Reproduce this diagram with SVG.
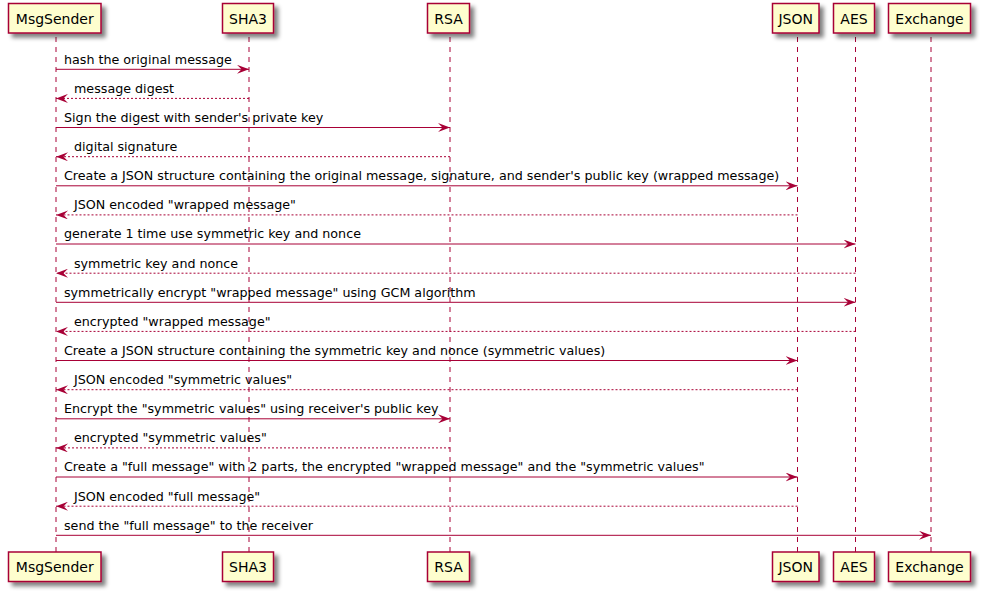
<svg xmlns="http://www.w3.org/2000/svg" width="981" height="593" viewBox="0 0 981 593">
<defs>
<filter id="sh" x="-20%" y="-20%" width="150%" height="160%">
<feGaussianBlur in="SourceAlpha" stdDeviation="2" result="b"/>
<feOffset in="b" dx="4" dy="4" result="o"/>
<feComponentTransfer in="o" result="o2"><feFuncA type="linear" slope="0.5"/></feComponentTransfer>
<feMerge><feMergeNode in="o2"/><feMergeNode in="SourceGraphic"/></feMerge>
</filter>
<marker id="ah" viewBox="0 0 12 9" refX="12" refY="4.5" markerWidth="12" markerHeight="9" markerUnits="userSpaceOnUse" orient="auto">
<polygon points="0,0 12,4.5 0,9 4.5,4.5" fill="#A80036"/>
</marker>
</defs>
<style>
.box{fill:#FEFECE;stroke:#A80036;stroke-width:1.5;filter:url(#sh)}
.pt{font-family:"DejaVu Sans",sans-serif;font-size:14px;fill:#000;text-anchor:middle}
.life{stroke:#A80036;stroke-width:1;stroke-dasharray:5,5;fill:none}
.msg{stroke:#A80036;stroke-width:1;fill:none;marker-end:url(#ah)}
.ret{stroke:#A80036;stroke-width:1;stroke-dasharray:2,2;fill:none;marker-end:url(#ah)}
.mt{font-family:"DejaVu Sans",sans-serif;font-size:12.7px;fill:#000}
</style>
<rect width="981" height="593" fill="#FFFFFF"/>
<g id="lifelines">
<line class="life" x1="56" y1="37" x2="56" y2="552"/>
<line class="life" x1="249" y1="37" x2="249" y2="552"/>
<line class="life" x1="450" y1="37" x2="450" y2="552"/>
<line class="life" x1="797.5" y1="37" x2="797.5" y2="552"/>
<line class="life" x1="855.5" y1="37" x2="855.5" y2="552"/>
<line class="life" x1="931" y1="37" x2="931" y2="552"/>
</g>
<g id="MsgSender">
<rect class="box" x="8.5" y="3.5" width="92.5" height="29.5"/>
<text class="pt" x="54.75" y="23.5">MsgSender</text>
<rect class="box" x="8.5" y="552" width="92.5" height="29.5"/>
<text class="pt" x="54.75" y="572">MsgSender</text>
</g>
<g id="SHA3">
<rect class="box" x="222.5" y="3.5" width="51" height="29.5"/>
<text class="pt" x="248" y="23.5">SHA3</text>
<rect class="box" x="222.5" y="552" width="51" height="29.5"/>
<text class="pt" x="248" y="572">SHA3</text>
</g>
<g id="RSA">
<rect class="box" x="427.5" y="3.5" width="42" height="29.5"/>
<text class="pt" x="448.5" y="23.5">RSA</text>
<rect class="box" x="427.5" y="552" width="42" height="29.5"/>
<text class="pt" x="448.5" y="572">RSA</text>
</g>
<g id="JSON">
<rect class="box" x="772.5" y="3.5" width="46.5" height="29.5"/>
<text class="pt" x="795.75" y="23.5">JSON</text>
<rect class="box" x="772.5" y="552" width="46.5" height="29.5"/>
<text class="pt" x="795.75" y="572">JSON</text>
</g>
<g id="AES">
<rect class="box" x="833.5" y="3.5" width="41" height="29.5"/>
<text class="pt" x="854" y="23.5">AES</text>
<rect class="box" x="833.5" y="552" width="41" height="29.5"/>
<text class="pt" x="854" y="572">AES</text>
</g>
<g id="Exchange">
<rect class="box" x="888.5" y="3.5" width="82" height="29.5"/>
<text class="pt" x="929.5" y="23.5">Exchange</text>
<rect class="box" x="888.5" y="552" width="82" height="29.5"/>
<text class="pt" x="929.5" y="572">Exchange</text>
</g>
<g id="connectors">
<line class="msg" x1="56" y1="69.3" x2="249" y2="69.3"/>
<text class="mt" x="64" y="63.6">hash the original message</text>
<line class="ret" x1="249" y1="98.4" x2="56" y2="98.4"/>
<text class="mt" x="74" y="92.7">message digest</text>
<line class="msg" x1="56" y1="127.5" x2="450" y2="127.5"/>
<text class="mt" x="64" y="121.8">Sign the digest with sender's private key</text>
<line class="ret" x1="450" y1="156.7" x2="56" y2="156.7"/>
<text class="mt" x="74" y="151">digital signature</text>
<line class="msg" x1="56" y1="185.8" x2="797.5" y2="185.8"/>
<text class="mt" x="64" y="180.1">Create a JSON structure containing the original message, signature, and sender's public key (wrapped message)</text>
<line class="ret" x1="797.5" y1="214.9" x2="56" y2="214.9"/>
<text class="mt" x="74" y="209.2">JSON encoded "wrapped message"</text>
<line class="msg" x1="56" y1="244" x2="855.5" y2="244"/>
<text class="mt" x="64" y="238.3">generate 1 time use symmetric key and nonce</text>
<line class="ret" x1="855.5" y1="273.2" x2="56" y2="273.2"/>
<text class="mt" x="74" y="267.5">symmetric key and nonce</text>
<line class="msg" x1="56" y1="302.3" x2="855.5" y2="302.3"/>
<text class="mt" x="64" y="296.6">symmetrically encrypt "wrapped message" using GCM algorithm</text>
<line class="ret" x1="855.5" y1="331.4" x2="56" y2="331.4"/>
<text class="mt" x="74" y="325.7">encrypted "wrapped message"</text>
<line class="msg" x1="56" y1="360.5" x2="797.5" y2="360.5"/>
<text class="mt" x="64" y="354.8">Create a JSON structure containing the symmetric key and nonce (symmetric values)</text>
<line class="ret" x1="797.5" y1="389.7" x2="56" y2="389.7"/>
<text class="mt" x="74" y="384">JSON encoded "symmetric values"</text>
<line class="msg" x1="56" y1="418.8" x2="450" y2="418.8"/>
<text class="mt" x="64" y="413.1">Encrypt the "symmetric values" using receiver's public key</text>
<line class="ret" x1="450" y1="447.9" x2="56" y2="447.9"/>
<text class="mt" x="74" y="442.2">encrypted "symmetric values"</text>
<line class="msg" x1="56" y1="477" x2="797.5" y2="477"/>
<text class="mt" x="64" y="471.3">Create a "full message" with 2 parts, the encrypted "wrapped message" and the "symmetric values"</text>
<line class="ret" x1="797.5" y1="506.2" x2="56" y2="506.2"/>
<text class="mt" x="74" y="500.5">JSON encoded "full message"</text>
<line class="msg" x1="56" y1="535.3" x2="931" y2="535.3"/>
<text class="mt" x="64" y="529.6">send the "full message" to the receiver</text>
</g>
</svg>
